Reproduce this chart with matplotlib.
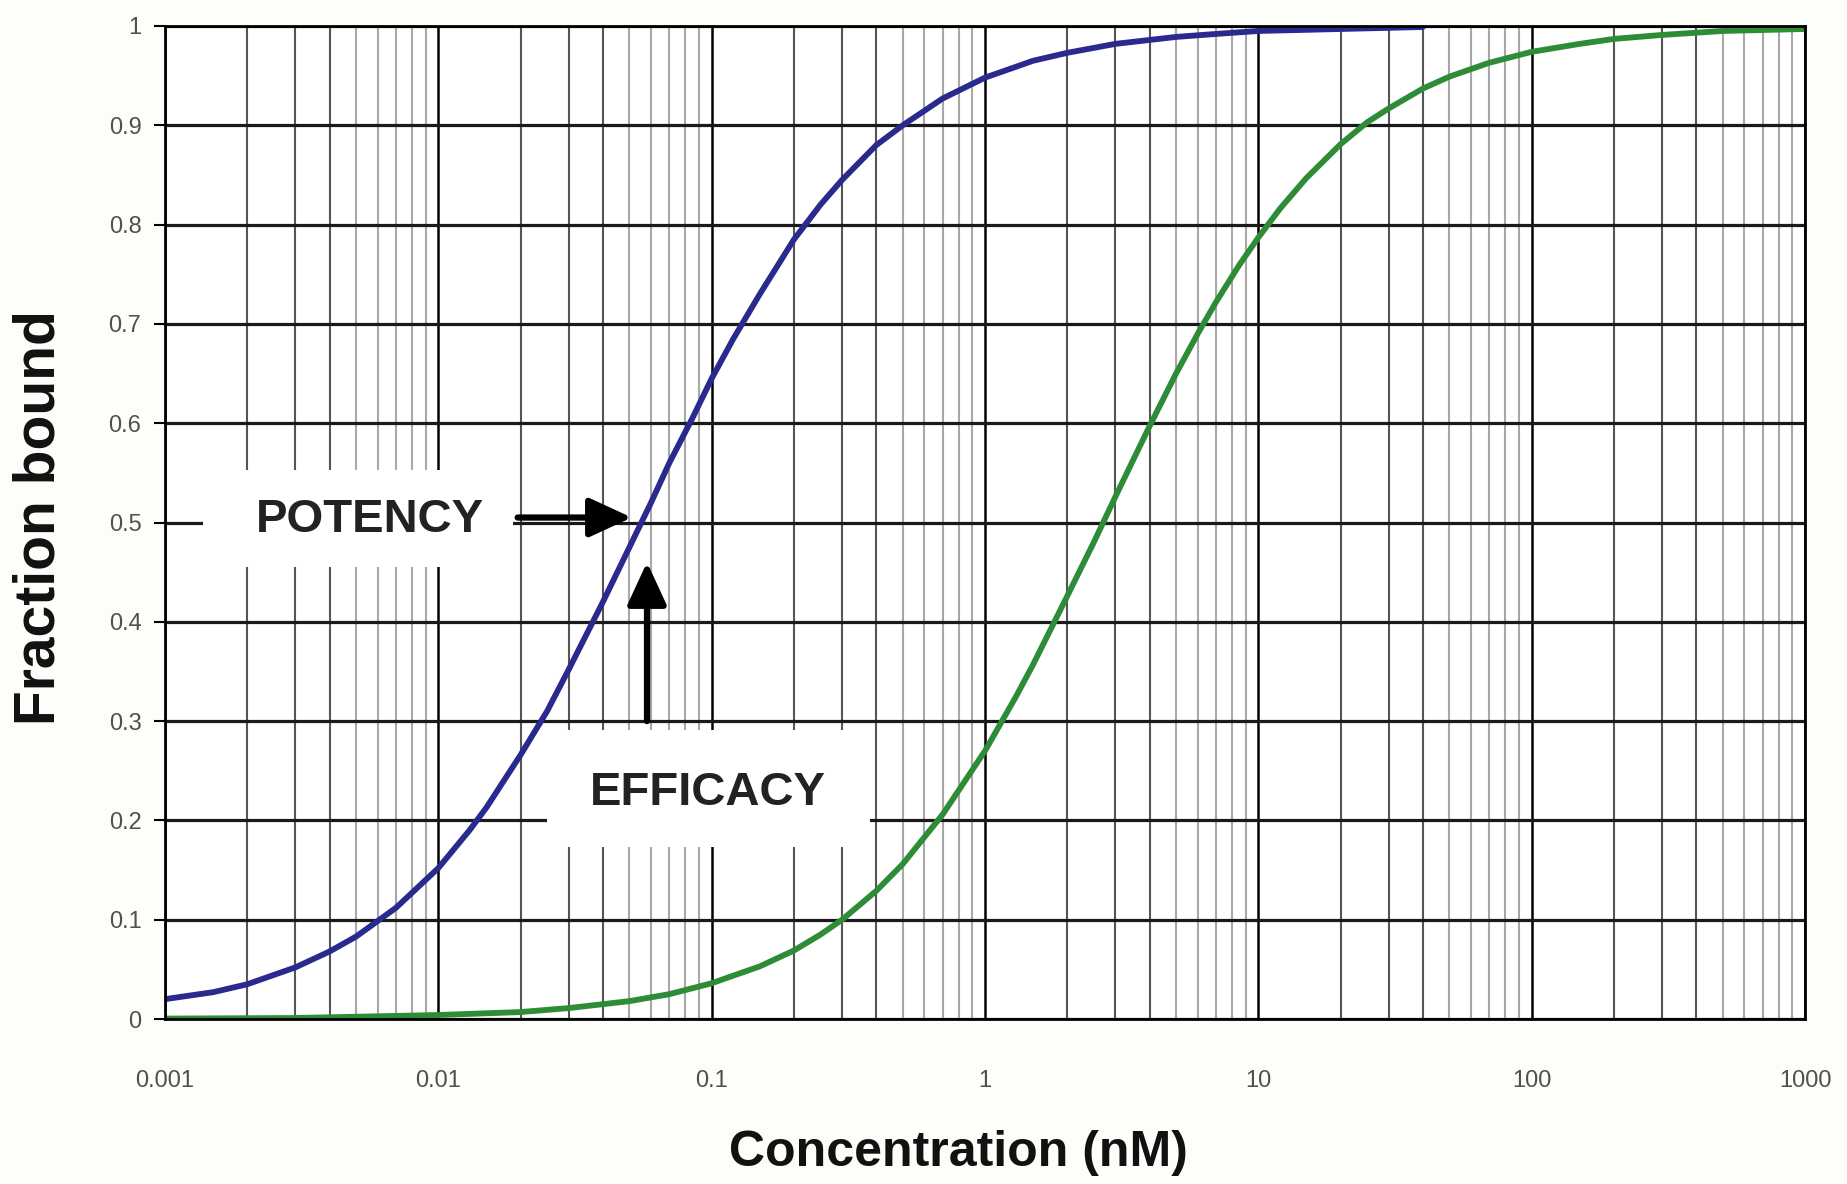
import numpy as np
import matplotlib
matplotlib.use("Agg")
from matplotlib import pyplot as plt
from matplotlib.patches import Rectangle
from matplotlib.ticker import FixedLocator, NullFormatter

# values
conc_blue = [0.001, 0.0015, 0.002, 0.003, 0.004, 0.005, 0.007, 0.01, 0.013, 0.015, 0.02,
	0.025, 0.03, 0.04, 0.05, 0.06, 0.07, 0.085, 0.1, 0.12, 0.15, 0.2, 0.25, 0.3, 0.4,
	0.5, 0.7, 1, 1.5, 2, 3, 5, 7, 10, 20, 40]
bound_blue = [0.02, 0.027, 0.035, 0.052, 0.068, 0.083, 0.112, 0.152, 0.19, 0.213, 0.266,
	0.31, 0.352, 0.42, 0.475, 0.52, 0.56, 0.605, 0.645, 0.685, 0.73, 0.785, 0.82, 0.845,
	0.88, 0.9, 0.927, 0.948, 0.965, 0.973, 0.982, 0.989, 0.992, 0.995, 0.997, 0.999]

conc_green = [0.001, 0.003, 0.01, 0.02, 0.03, 0.05, 0.07, 0.1, 0.15, 0.2, 0.25, 0.3,
	0.4, 0.5, 0.7, 1, 1.3, 1.5, 2, 2.5, 3, 4, 5, 6, 7, 8.5, 10, 12, 15, 20, 25, 30, 40,
	50, 70, 100, 150, 200, 300, 500, 1000]
bound_green = [0.0004, 0.001, 0.004, 0.007, 0.011, 0.018, 0.025, 0.036, 0.053, 0.069,
	0.085, 0.1, 0.129, 0.156, 0.206, 0.27, 0.325, 0.357, 0.426, 0.48, 0.526, 0.597,
	0.65, 0.69, 0.722, 0.759, 0.787, 0.816, 0.847, 0.881, 0.903, 0.917, 0.937, 0.949,
	0.963, 0.974, 0.982, 0.987, 0.991, 0.995, 0.997]

x_ticks = [0.001, 0.01, 0.1, 1, 10, 100, 1000]
x_labels = ["0.001", "0.01", "0.1", "1", "10", "100", "1000"]
y_ticks = [0, 0.1, 0.2, 0.3, 0.4, 0.5, 0.6, 0.7, 0.8, 0.9, 1]
y_labels = ["0", "0.1", "0.2", "0.3", "0.4", "0.5", "0.6", "0.7", "0.8", "0.9", "1"]

sans = ["Liberation Sans", "DejaVu Sans"]

fig = plt.figure(figsize=(18.47, 11.84), dpi=100, facecolor="#fdfdf9")
ax = fig.add_axes([165 / 1847, 1 - 1019 / 1184, 1640 / 1847, 993 / 1184])
ax.set_facecolor("white")
ax.set_xscale("log")
ax.set_xlim(0.001, 1000)
ax.set_ylim(0, 1)

# grid: dark 2-4 minors, lighter 5-9, black decades and tenths
minor_dark = [m * d for d in x_ticks[:-1] for m in (2, 3, 4)]
minor_light = [m * d for d in x_ticks[:-1] for m in (5, 6, 7, 8, 9)]
for xv in minor_light:
	ax.axvline(xv, color="#a8a8a8", lw=1.5, zorder=1)
for xv in minor_dark:
	ax.axvline(xv, color="#555555", lw=1.5, zorder=1)
for xv in x_ticks:
	ax.axvline(xv, color="black", lw=1.8, zorder=1)
for yv in y_ticks:
	ax.axhline(yv, color="#1a1a1a", lw=2.3, zorder=1)

ax.plot(conc_blue, bound_blue, color="#29298e", lw=4.2, zorder=7, solid_capstyle="round")
ax.plot(conc_green, bound_green, color="#2e8c37", lw=4.2, zorder=7, solid_capstyle="round")

for s in ax.spines.values():
	s.set_color("black")
	s.set_linewidth(2.0)
	s.set_zorder(8)

ax.xaxis.set_major_locator(FixedLocator(x_ticks))
ax.xaxis.set_minor_locator(FixedLocator([]))
ax.xaxis.set_minor_formatter(NullFormatter())
ax.set_xticklabels(x_labels)
ax.set_yticks(y_ticks)
ax.set_yticklabels(y_labels)
ax.tick_params(axis="x", length=0, pad=37, labelsize=17, labelcolor="#505050")
ax.tick_params(axis="y", length=8, width=1.5, pad=9, labelsize=17, labelcolor="#505050")
for lab in ax.get_xticklabels() + ax.get_yticklabels():
	lab.set_family(sans)

fig.text(958 / 1847, 1 - 1153 / 1184, "Concentration (nM)", ha="center", va="center",
	fontsize=36, fontweight="bold", family=sans, color="#111111")
fig.text(40 / 1847, 1 - 518 / 1184, "Fraction bound", ha="center", va="center",
	rotation=90, fontsize=41, fontweight="bold", family=sans, color="#111111")

# white boxes hiding the grid behind the annotation labels
ax.add_patch(Rectangle((0.0232, 0.455), 0.189, 0.098, transform=ax.transAxes,
	facecolor="white", edgecolor="none", zorder=3))
ax.add_patch(Rectangle((0.2329, 0.173), 0.197, 0.118, transform=ax.transAxes,
	facecolor="white", edgecolor="none", zorder=3))

ax.text(0.0056, 0.503, "POTENCY", ha="center", va="center", fontsize=34, fontweight="bold",
	family=sans, color="#222222", zorder=5)
ax.text(0.097, 0.228, "EFFICACY", ha="center", va="center", fontsize=34, fontweight="bold",
	family=sans, color="#222222", zorder=5)

arrow_style = dict(arrowstyle="-|>,head_length=1.3,head_width=0.6", color="black",
	lw=4.5, mutation_scale=20, shrinkA=0, shrinkB=0)
ax.annotate("", xy=(0.051, 0.505), xytext=(0.0195, 0.505), zorder=6, arrowprops=arrow_style)
ax.annotate("", xy=(0.058, 0.46), xytext=(0.058, 0.30), zorder=6, arrowprops=arrow_style)

fig.savefig("out.png", dpi=100, facecolor=fig.get_facecolor())
